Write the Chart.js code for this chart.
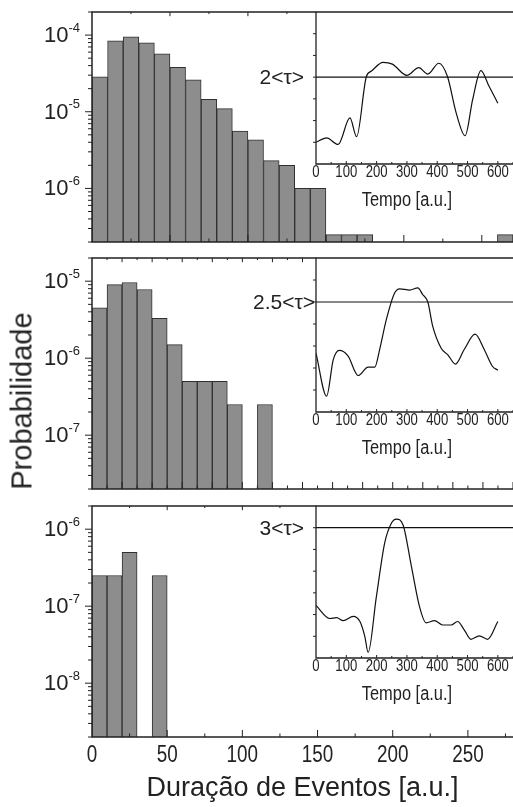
<!DOCTYPE html>
<html>
<head>
<meta charset="utf-8">
<script src="https://cdn.jsdelivr.net/npm/chart.js@4.4.1/dist/chart.umd.min.js"></script>
<style>
  body { margin: 0; width: 513px; height: 807px; overflow: hidden; position: relative; background: #fff; }
  canvas { position: absolute; }
  #ytitle { position: absolute; left: 22px; top: 401px; transform: translate(-50%, -50%) rotate(-90deg);
            font: 29px 'Liberation Sans', Arial, sans-serif; color: #222; white-space: nowrap; }
</style>
</head>
<body>
<canvas id="hist1" style="left:0;top:0" width="513" height="250"></canvas>
<canvas id="hist2" style="left:0;top:250px" width="513" height="250"></canvas>
<canvas id="hist3" style="left:0;top:500px" width="513" height="307"></canvas>
<canvas id="inset1" style="left:240px;top:0" width="273" height="215"></canvas>
<canvas id="inset2" style="left:240px;top:246px" width="273" height="217"></canvas>
<canvas id="inset3" style="left:240px;top:494px" width="273" height="215"></canvas>
<div id="ytitle">Probabilidade</div>
<script>
// histogram bins (centre of each 10 a.u. bin) and probabilities
var dur1 = [5, 15, 25, 35, 45, 55, 65, 75, 85, 95, 105, 115, 125, 135, 145, 155, 165, 175, 265];
var prob1 = [2.85e-5, 8.4e-5, 9.5e-5, 7.9e-5, 5.7e-5, 3.8e-5, 2.6e-5, 1.45e-5, 1.1e-5, 5.6e-6,
             4.3e-6, 2.3e-6, 2.0e-6, 1.0e-6, 1.0e-6, 2.5e-7, 2.5e-7, 2.5e-7, 2.5e-7];
var dur2 = [5, 15, 25, 35, 45, 55, 65, 75, 85, 95, 115];
var prob2 = [4.5e-6, 9.0e-6, 9.6e-6, 7.8e-6, 3.3e-6, 1.5e-6, 5e-7, 5e-7, 5e-7, 2.5e-7, 2.5e-7];
var dur3 = [5, 15, 25, 45];
var prob3 = [2.5e-7, 2.5e-7, 5e-7, 2.5e-7];
var durTicks = [0, 50, 100, 150, 200, 250];
var xTitle = 'Duração de Eventos [a.u.]';

// inset signals (tempo, sinal) and thresholds
var tempo1 = [0, 35, 73, 112, 134, 166, 183, 221, 252, 300, 339, 369, 405, 434, 462, 492, 517, 544, 571, 600];
var sinal1 = [0.50, 0.60, 0.45, 1.06, 0.63, 2.01, 2.14, 2.34, 2.30, 2.04, 2.22, 2.07, 2.32, 2.01, 1.19, 0.65, 1.49, 2.15, 1.79, 1.40];
var tempo2 = [0, 35, 57, 77, 106, 139, 172, 194, 210, 232, 259, 276, 309, 336, 352, 369, 385, 413, 435, 460, 489, 525, 555, 582, 600];
var sinal2 = [1.34, 0.36, 1.19, 1.40, 1.27, 0.83, 1.02, 1.02, 1.42, 2.10, 2.70, 2.80, 2.77, 2.82, 2.67, 2.50, 1.95, 1.45, 1.30, 1.09, 1.42, 1.77, 1.42, 1.04, 0.95];
var tempo3 = [0, 46, 68, 90, 123, 145, 161, 172, 199, 227, 250, 265, 287, 314, 342, 363, 391, 418, 446, 467, 489, 511, 539, 566, 600];
var sinal3 = [1.21, 0.91, 0.93, 0.86, 0.96, 0.84, 0.50, 0.13, 1.40, 2.66, 3.12, 3.20, 3.07, 2.14, 1.17, 0.81, 0.86, 0.76, 0.76, 0.84, 0.65, 0.43, 0.51, 0.43, 0.84];
var limiares = [2, 2.5, 3];
var rotulos = ['2<τ>', '2.5<τ>', '3<τ>'];
var tempoTicks = [0, 100, 200, 300, 400, 500, 600];
var tempoTitle = 'Tempo [a.u.]';

var REG = "'Liberation Sans', Arial, sans-serif";
var INK = '#222';
var SQUEEZE = 0.82; // the original tick lettering is a narrow face

function tick(ctx, x1, y1, x2, y2) {
  ctx.beginPath(); ctx.moveTo(x1, y1); ctx.lineTo(x2, y2); ctx.stroke();
}

function narrowText(ctx, text, x, y, size) {
  ctx.save();
  ctx.font = size + 'px ' + REG;
  ctx.textAlign = 'center';
  ctx.textBaseline = 'middle';
  ctx.translate(x, y);
  ctx.scale(SQUEEZE, 1);
  ctx.fillText(text, 0, 0);
  ctx.restore();
}

// frame, inward x ticks, log y ticks and 10^n labels for the histograms
var framePlugin = {
  id: 'frame',
  afterDraw: function(chart, args, opts) {
    var ctx = chart.ctx, a = chart.chartArea, xs = chart.scales.x, ys = chart.scales.y;
    ctx.save();
    ctx.strokeStyle = INK;
    ctx.fillStyle = INK;
    ctx.lineWidth = 1.5;
    ctx.beginPath();
    ctx.moveTo(chart.width + 2, a.top); ctx.lineTo(a.left, a.top);
    ctx.lineTo(a.left, a.bottom); ctx.lineTo(chart.width + 2, a.bottom);
    ctx.stroke();
    ctx.lineWidth = 1;
    for (var v = opts.xMinor; v <= xs.max; v += opts.xMinor) {
      var px = xs.getPixelForValue(v);
      var len = (v % opts.xMajor === 0) ? 7 : 3.5;
      tick(ctx, px, a.bottom, px, a.bottom - len);
      tick(ctx, px, a.top, px, a.top + len * 0.6);
    }
    if (opts.labels) {
      durTicks.forEach(function(d) {
        narrowText(ctx, String(d), xs.getPixelForValue(d), a.bottom + 19, 23);
      });
    }
    var e0 = Math.floor(Math.log10(ys.min)), e1 = Math.floor(Math.log10(ys.max));
    for (var e = e0; e <= e1; e++) {
      for (var k = 1; k <= 9; k++) {
        var val = k * Math.pow(10, e);
        if (val < ys.min || val > ys.max) continue;
        var py = ys.getPixelForValue(val);
        tick(ctx, a.left - (k === 1 ? 7 : 4), py, a.left, py);
      }
    }
    ctx.textBaseline = 'middle';
    ctx.textAlign = 'right';
    for (e = Math.ceil(Math.log10(ys.min)); e <= e1; e++) {
      var y = ys.getPixelForValue(Math.pow(10, e));
      var exp = '-' + Math.abs(e);
      ctx.font = '13px ' + REG;
      var w = ctx.measureText(exp).width;
      ctx.fillText(exp, 80, y - 7);
      ctx.font = '22px ' + REG;
      ctx.fillText('10', 80 - w, y + 1);
    }
    ctx.restore();
  }
};

function histConfig(dur, prob, xMax, yMin, yMax, pad, xMinor, xMajor, showX) {
  return {
    type: 'bar',
    data: {
      datasets: [{
        data: dur.map(function(d, i) { return { x: d, y: prob[i] }; }),
        backgroundColor: '#8d8d8d',
        borderColor: '#303030',
        borderWidth: 1,
        barPercentage: 1,
        categoryPercentage: 1
      }]
    },
    options: {
      responsive: false,
      animation: false,
      layout: { padding: pad },
      plugins: { legend: { display: false }, tooltip: { enabled: false },
                 frame: { xMinor: xMinor, xMajor: xMajor, labels: showX } },
      scales: {
        x: {
          type: 'linear', min: 0, max: xMax, offset: false,
          grid: { display: false, drawTicks: false }, border: { display: false },
          afterBuildTicks: function(s) { s.ticks = durTicks.map(function(v) { return { value: v }; }); },
          ticks: { display: false },
          title: { display: showX, text: xTitle, font: { family: REG, size: 27 }, color: INK,
                   padding: { top: 0, bottom: 2 } },
          afterFit: function(s) { s.height = showX ? 70 : 0; }
        },
        y: {
          type: 'logarithmic', min: yMin, max: yMax,
          grid: { display: false, drawTicks: false }, border: { display: false },
          ticks: { display: false },
          afterFit: function(s) { s.width = 0; }
        }
      }
    },
    plugins: [framePlugin]
  };
}

// white inset box, its frame, ticks, labels and threshold text
var insetPlugin = {
  id: 'inset',
  beforeDraw: function(chart) {
    var ctx = chart.ctx, a = chart.chartArea;
    ctx.save();
    ctx.fillStyle = '#fff';
    ctx.fillRect(a.left, a.top - 1, chart.width - a.left, a.bottom - a.top + 2);
    ctx.restore();
  },
  afterDraw: function(chart, args, opts) {
    var ctx = chart.ctx, a = chart.chartArea, xs = chart.scales.x, ys = chart.scales.y;
    ctx.save();
    ctx.strokeStyle = INK;
    ctx.fillStyle = INK;
    ctx.lineWidth = 1.3;
    ctx.beginPath();
    ctx.moveTo(chart.width + 2, a.top); ctx.lineTo(a.left, a.top);
    ctx.lineTo(a.left, a.bottom); ctx.lineTo(chart.width + 2, a.bottom);
    ctx.stroke();
    ctx.lineWidth = 1;
    for (var v = 0.5; v < ys.max; v += 0.5) {
      var py = ys.getPixelForValue(v);
      tick(ctx, a.left - 3, py, a.left, py);
    }
    for (var t = 50; t <= xs.max; t += 50) {
      var px = xs.getPixelForValue(t);
      tick(ctx, px, a.bottom, px, a.bottom - (t % 100 === 0 ? 3 : 2));
    }
    tempoTicks.forEach(function(tv) {
      narrowText(ctx, String(tv), xs.getPixelForValue(tv), a.bottom + 9, 16);
    });
    narrowText(ctx, tempoTitle, xs.getPixelForValue(300), a.bottom + 36, 20);
    ctx.font = '21px ' + REG;
    ctx.textAlign = 'right';
    ctx.textBaseline = 'middle';
    ctx.fillText(opts.label, opts.right, ys.getPixelForValue(opts.value) + 1);
    ctx.restore();
  }
};

function insetConfig(tempo, sinal, limiar, rotulo, labelRight) {
  return {
    type: 'line',
    data: {
      datasets: [{
        data: tempo.map(function(t, i) { return { x: t, y: sinal[i] }; }),
        borderColor: '#111', borderWidth: 1.2, pointRadius: 0, cubicInterpolationMode: 'monotone', fill: false
      }, {
        data: [{ x: 0, y: limiar }, { x: 650, y: limiar }],
        borderColor: '#111', borderWidth: 1.2, pointRadius: 0, fill: false
      }]
    },
    options: {
      responsive: false,
      animation: false,
      layout: { padding: { left: 76, top: 12, right: 0, bottom: 0 } },
      plugins: { legend: { display: false }, tooltip: { enabled: false },
                 inset: { label: rotulo, value: limiar, right: labelRight } },
      scales: {
        x: {
          type: 'linear', min: 0, max: 650,
          grid: { display: false, drawTicks: false }, border: { display: false },
          afterBuildTicks: function(s) { s.ticks = tempoTicks.map(function(v) { return { value: v }; }); },
          ticks: { display: false },
          afterFit: function(s) { s.height = 51; }
        },
        y: {
          type: 'linear', min: 0, max: 3.5,
          grid: { display: false, drawTicks: false }, border: { display: false },
          ticks: { display: false },
          afterFit: function(s) { s.width = 0; }
        }
      }
    },
    plugins: [insetPlugin]
  };
}

new Chart(document.getElementById('hist1'), histConfig(dur1, prob1, 270, 2e-7, 2e-4, { left: 92, top: 12, right: 0, bottom: 8 }, 25, 50, false));
new Chart(document.getElementById('hist2'), histConfig(dur2, prob2, 280, 2e-8, 2e-5, { left: 92, top: 8, right: 0, bottom: 11 }, 10, 20, false));
new Chart(document.getElementById('hist3'), histConfig(dur3, prob3, 280, 2e-9, 2e-6, { left: 92, top: 6, right: 0, bottom: 0 }, 25, 50, true));

new Chart(document.getElementById('inset1'), insetConfig(tempo1, sinal1, limiares[0], rotulos[0], 64));
new Chart(document.getElementById('inset2'), insetConfig(tempo2, sinal2, limiares[1], rotulos[1], 75));
new Chart(document.getElementById('inset3'), insetConfig(tempo3, sinal3, limiares[2], rotulos[2], 64));
</script>
</body>
</html>
